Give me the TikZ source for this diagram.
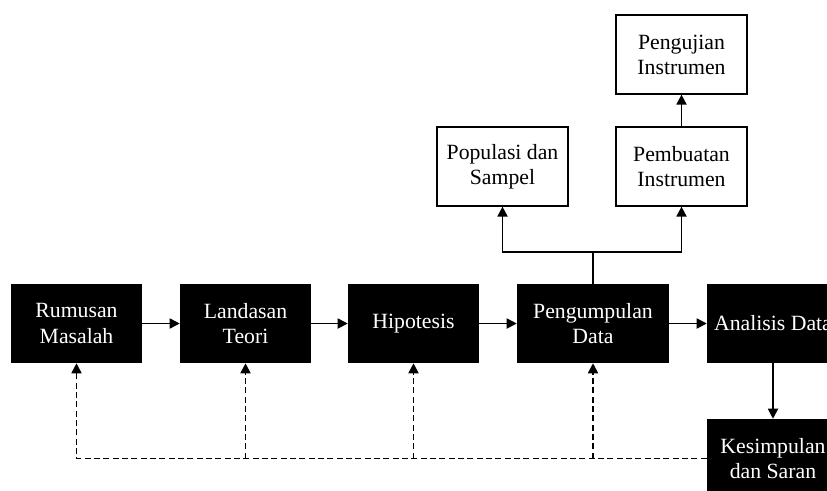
\documentclass[tikz,border=0pt]{standalone}
\usepackage{fontspec}
\setmainfont{Liberation Serif}
\usetikzlibrary{arrows.meta}
\begin{document}
\begin{tikzpicture}[>={Triangle[length=7.5pt,width=7.5pt]},x=0.75pt,y=-0.75pt,
	kotakhitam/.style={rectangle,fill=black,text=white,align=center,minimum width=98.25pt,minimum height=59.25pt,inner sep=0pt,font=\fontsize{16.3}{18.8}\selectfont},
	kotakputih/.style={rectangle,draw=black,line width=0.9pt,fill=white,align=center,minimum width=98.25pt,minimum height=59.25pt,inner sep=0pt,font=\fontsize{16.3}{18.8}\selectfont},
	garis/.style={line width=1.3pt},
	putus/.style={line width=1.3pt,dash pattern=on 4.5pt off 2.5pt}]
	\useasboundingbox (0,0) rectangle (827,490);
	\clip (0,0) rectangle (827,490);
	%\draw[gray!30,step=50] (0,0) grid (827,490);
	\node[kotakhitam] (rumusan) at (76.5,323.5) {Rumusan\\Masalah};
	\node[kotakhitam] (landasan) at (245.5,323.5) {Landasan\\Teori};
	\node[kotakhitam] (hipotesis) at (413.5,323.5) {Hipotesis};
	\node[kotakhitam,minimum width=114pt] (pengumpulan) at (593,323.5) {Pengumpulan\\Data};
	\node[kotakhitam,minimum width=99pt] (analisis) at (773,323.5) {Analisis Data};
	\node[kotakhitam,minimum width=99pt] (kesimpulan) at (773,458.5) {Kesimpulan\\dan Saran};
	\node[kotakputih] (populasi) at (502.5,166.5) {Populasi dan\\Sampel};
	\node[kotakputih] (pembuatan) at (681.5,166.5) {Pembuatan\\Instrumen};
	\node[kotakputih] (pengujian) at (681.5,54.5) {Pengujian\\Instrumen};
	% alur utama
	\draw[garis,->] (rumusan) -- (landasan);
	\draw[garis,->] (landasan) -- (hipotesis);
	\draw[garis,->] (hipotesis) -- (pengumpulan);
	\draw[garis,->] (pengumpulan) -- (analisis);
	\draw[garis,->] (analisis) -- (kesimpulan);
	% cabang ke atas
	\coordinate (cabang) at ([yshift=24pt]pengumpulan.north);
	\draw[garis] (pengumpulan.north) -- (cabang);
	\draw[garis,->] (cabang) -| (populasi.south);
	\draw[garis,->] (cabang) -| (pembuatan.south);
	\draw[garis,->] (pembuatan) -- (pengujian);
	% umpan balik
	\draw[putus,->] (kesimpulan.west) -| (rumusan.south);
	\foreach \n in {landasan,hipotesis,pengumpulan}
		\draw[putus,->] (\n.south |- kesimpulan.west) -- (\n.south);
\end{tikzpicture}
\end{document}
